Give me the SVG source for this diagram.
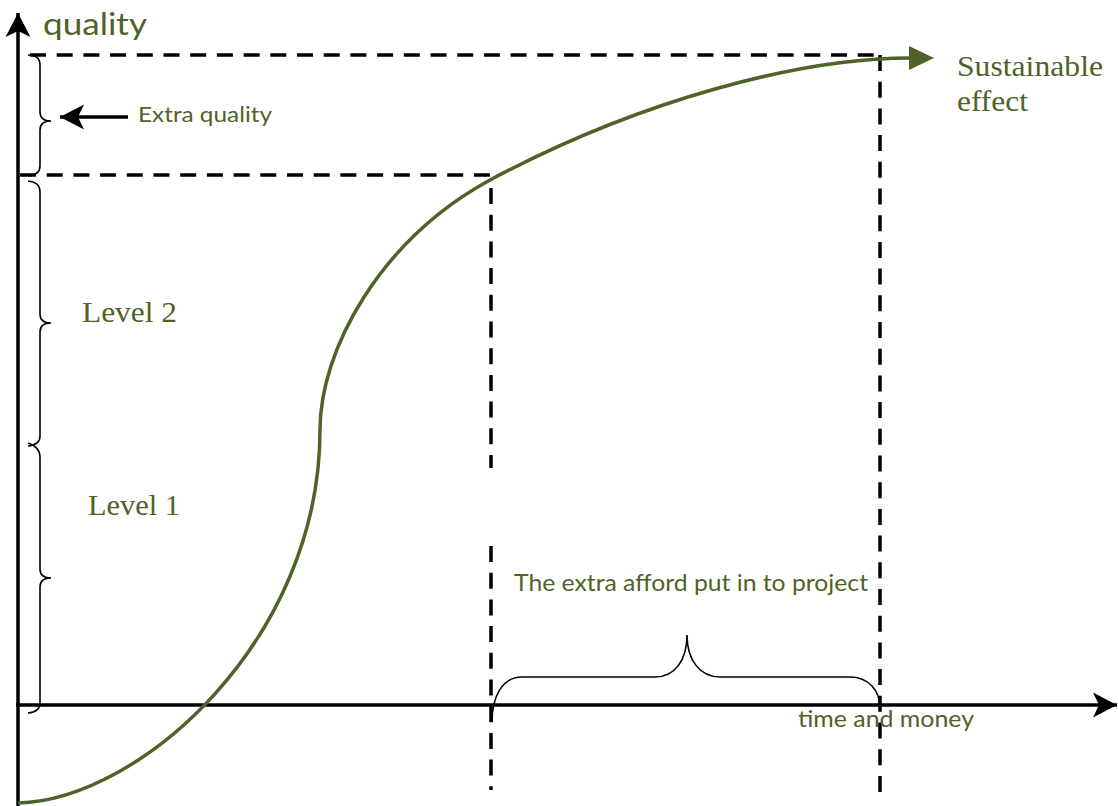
<svg xmlns="http://www.w3.org/2000/svg" width="1118" height="806" viewBox="0 0 1118 806">
<style>
.axis{stroke:#000;stroke-width:3.5;fill:none}
.dash{stroke:#000;stroke-width:3.5;fill:none;stroke-dasharray:16 10.7}
.brace{stroke:#000;stroke-width:1.6;fill:none}
.curve{stroke:#4f6228;stroke-width:3.5;fill:none}
.lbl{fill:#4f6228;font-family:Lato,"Open Sans",sans-serif}
.ser{fill:#4f6228;font-family:"Liberation Serif","Times New Roman",serif}
</style>
<defs>
<marker id="ah" viewBox="0 0 26 26" refX="24" refY="13" markerWidth="26" markerHeight="26" markerUnits="userSpaceOnUse" orient="auto">
<path d="M24,13 L0,0.5 L6,13 L0,25.5 Z" fill="#000"/>
</marker>
<marker id="ahg" viewBox="0 0 25 24" refX="1" refY="12" markerWidth="25" markerHeight="24" markerUnits="userSpaceOnUse" orient="auto">
<path d="M0,0 L25,12 L0,24 Z" fill="#4f6228"/>
</marker>
</defs>
<rect width="1118" height="806" fill="#fff"/>

<g id="guides">
<line class="dash" x1="30" y1="55" x2="880" y2="55"/>
<line class="dash" x1="20" y1="175" x2="490" y2="175"/>
<line class="dash" x1="491" y1="188" x2="491" y2="468"/>
<line class="dash" x1="491" y1="546" x2="491" y2="790"/>
<line class="dash" x1="880" y1="55" x2="880" y2="798"/>
</g>

<g id="axes">
<line class="axis" x1="18" y1="806" x2="18" y2="13" marker-end="url(#ah)"/>
<line class="axis" x1="16" y1="705" x2="1117" y2="705" marker-end="url(#ah)"/>
</g>

<g id="curve">
<path class="curve" d="M18,803 C140,800 320,640 320,430 C320,350 380,240 490,180 C640,100 800,58 910,58" marker-end="url(#ahg)"/>
</g>

<g id="braces">
<path id="brace-extra" class="brace" d="M28,55 Q40,55 40,65 L40,112 Q40,121 51,121 Q40,121 40,130 L40,166 Q40,175 28,176"/>
<path id="brace-level2" class="brace" d="M28,181 Q40,182 40,192 L40,314 Q40,323 51,323 Q40,323 40,332 L40,436 Q40,445 28,446"/>
<path id="brace-level1" class="brace" d="M28,443 Q40,447 40,457 L40,569 Q40,578 51,578 Q40,578 40,587 L40,703 Q40,712 28,713"/>
<path id="brace-effort" class="brace" stroke-width="2" d="M492,722 C492,697 502,677 522,677 L655,677 C675,677 687,660 687,635 C687,660 700,677 720,677 L850,677 C868,677 880,690 880,708"/>
</g>

<g id="extra-arrow">
<line class="axis" stroke-width="3" x1="128" y1="117" x2="60" y2="117" marker-end="url(#ah)"/>
</g>

<g id="labels">
<text class="lbl" x="43" y="35" font-size="30" textLength="104" lengthAdjust="spacingAndGlyphs">quality</text>
<text class="lbl" x="138" y="122" font-size="22" textLength="134" lengthAdjust="spacingAndGlyphs">Extra quality</text>
<text class="ser" x="957" y="76" font-size="30" textLength="146" lengthAdjust="spacingAndGlyphs">Sustainable</text>
<text class="ser" x="957" y="111" font-size="30" textLength="71" lengthAdjust="spacingAndGlyphs">effect</text>
<text class="ser" x="82" y="322" font-size="30" textLength="95" lengthAdjust="spacingAndGlyphs">Level 2</text>
<text class="ser" x="88" y="515" font-size="30" textLength="92" lengthAdjust="spacingAndGlyphs">Level 1</text>
<text class="lbl" x="514" y="591" font-size="24" textLength="354" lengthAdjust="spacingAndGlyphs">The extra afford put in to project</text>
<text class="lbl" x="798" y="727" font-size="23" textLength="176" lengthAdjust="spacingAndGlyphs">time and money</text>
</g>
</svg>
